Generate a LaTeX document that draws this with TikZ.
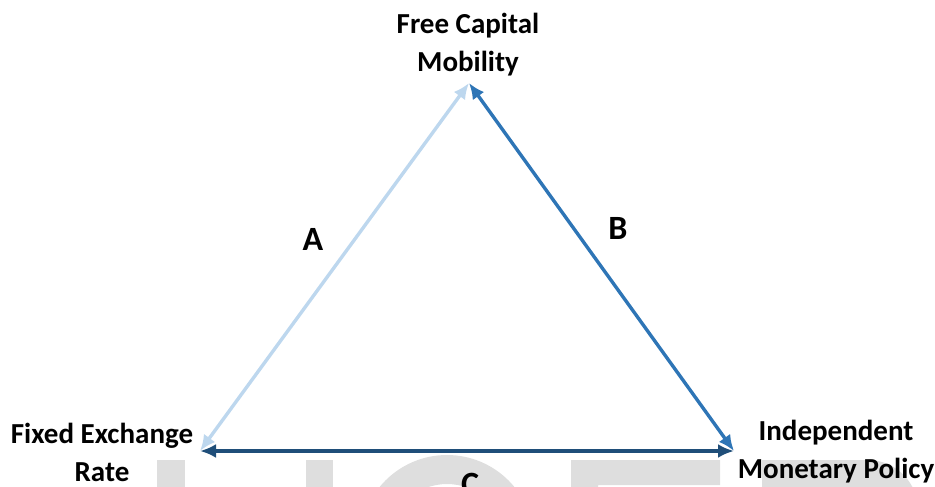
\documentclass[tikz,border=0pt]{standalone}
\usepackage{fontspec}
\setmainfont{Carlito}
\usepackage{tikz}
\usetikzlibrary{arrows.meta}
\definecolor{tlight}{HTML}{BDD7EE}
\definecolor{tmid}{HTML}{2E75B6}
\definecolor{tdark}{HTML}{1F4E79}
\definecolor{tmark}{HTML}{DEDEDE}
\tikzset{
  corner/.style={font=\bfseries\fontsize{29}{38}\selectfont,align=center,inner sep=0pt},
  side/.style={font=\bfseries\fontsize{34}{38}\selectfont,inner sep=0pt},
  edge/.style={{Latex[length=16pt,width=14pt]}-{Latex[length=16pt,width=14pt]},line width=3.4pt},
}
\begin{document}
\begin{tikzpicture}[x=1pt,y=-1pt]
  \useasboundingbox (0,0) rectangle (935,487);
  \clip (0,0) rectangle (935,487);
  % faint lettering behind the triangle
  \fill[tmark] (157,460) rectangle (185,487);
  \fill[tmark] (306,460) rectangle (333,487);
  \fill[tmark,even odd rule] (447,542) circle (87) (447,542) circle (58);
  \fill[tmark] (571,487) -- (571,460) -- (720,460) -- (720,485) -- (598,485) -- (598,487) -- cycle;
  \fill[tmark] (762,487) -- (762,460) -- (868,460) arc[start angle=-90,end angle=0,radius=50] -- (918,487) -- cycle;
  % corners of the triangle
  \coordinate (apex) at (469,83);
  \coordinate (lc) at (200,451);
  \coordinate (rc) at (734,451);
  \node[corner] (fcm) at (468,45) {Free Capital\\Mobility};
  \node[corner] (fxr) at (102,452) {Fixed Exchange\\Rate};
  \node[corner] (imp) at (836,452) {Independent\\Monetary Policy};
  \draw[edge,draw=tlight,fill=tlight] (apex) -- (lc);
  \draw[edge,draw=tmid,fill=tmid] (apex) -- (rc);
  \draw[edge,draw=tdark,fill=tdark,line width=4.4pt] (lc) -- (rc);
  \node[side] (a) at (313,239) {A};
  \node[side] (b) at (618,228) {B};
  \node[side] (c) at (470,484) {C};
\end{tikzpicture}
\end{document}
